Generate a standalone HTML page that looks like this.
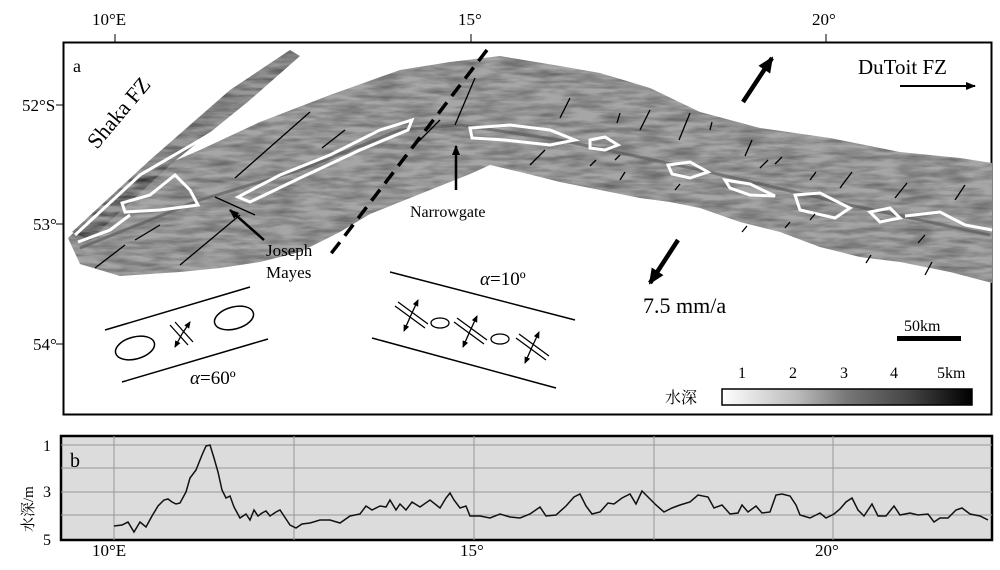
<!DOCTYPE html>
<html><head><meta charset="utf-8"><style>
body{margin:0;background:#fff;width:1000px;height:570px;overflow:hidden}
svg{display:block}
text{font-family:"Liberation Serif","Noto Serif CJK SC",serif;fill:#000}
</style></head><body>
<svg width="1000" height="570" viewBox="0 0 1000 570">
<defs>
<filter id="tex" x="0" y="0" width="100%" height="100%">
<feTurbulence type="fractalNoise" baseFrequency="0.03 0.18" numOctaves="3" seed="4" result="n"/>
<feColorMatrix in="n" type="matrix" values="0 0 0 0 0  0 0 0 0 0  0 0 0 0 0  0 0 0 -1.6 1.1" result="d"/>
<feComposite in="d" in2="SourceGraphic" operator="in"/>
</filter>
<linearGradient id="cb" x1="0" x2="1">
<stop offset="0" stop-color="#fff"/><stop offset="0.3" stop-color="#bbb"/><stop offset="0.5" stop-color="#777"/><stop offset="0.75" stop-color="#444"/><stop offset="1" stop-color="#000"/>
</linearGradient>
<marker id="ah" markerUnits="userSpaceOnUse" markerWidth="10" markerHeight="8" refX="9" refY="4" orient="auto"><path d="M0,0L10,4L0,8z" fill="#000"/></marker>
<marker id="ab" markerUnits="userSpaceOnUse" markerWidth="16" markerHeight="14" refX="14" refY="7" orient="auto"><path d="M0,0L16,7L0,14z" fill="#000"/></marker>
<marker id="as" markerUnits="userSpaceOnUse" markerWidth="7" markerHeight="6" refX="6" refY="3" orient="auto"><path d="M0,0L7,3L0,6z" fill="#000"/></marker>
</defs>
<rect x="63.5" y="42.5" width="928" height="372" fill="#fff" stroke="#000" stroke-width="2"/>
<line x1="115" y1="34" x2="115" y2="42" stroke="#000"/><line x1="471" y1="34" x2="471" y2="42" stroke="#000"/><line x1="826" y1="34" x2="826" y2="42" stroke="#000"/>
<text x="92" y="25" font-size="17">10°E</text><text x="458" y="25" font-size="17">15°</text><text x="812" y="25" font-size="17">20°</text>
<text x="22" y="111" font-size="17">52°S</text><text x="33" y="230" font-size="17">53°</text><text x="33" y="350" font-size="17">54°</text>
<line x1="56" y1="105" x2="63" y2="105" stroke="#000"/><line x1="56" y1="224" x2="63" y2="224" stroke="#000"/><line x1="56" y1="344" x2="63" y2="344" stroke="#000"/>
<text x="73" y="72" font-size="18">a</text>
<g>
<path d="M68,238 L130,180 L200,150 L260,122 L330,95 L400,70 L450,62 L500,56 L560,66 L600,73 L650,88 L700,112 L760,128 L830,138 L900,152 L960,158 L992,163 L992,283 L950,272 L900,262 L860,257 L820,247 L780,232 L740,222 L700,208 L670,202 L640,198 L600,190 L560,182 L520,172 L490,165 L470,174 L430,190 L400,202 L370,214 L340,232 L300,252 L260,262 L220,268 L180,272 L120,276 L80,264 Z" fill="#a6a6a6"/>
<path d="M72,232 L150,160 L230,90 L290,50 L300,56 L250,100 L170,165 L90,240 Z" fill="#999"/>
<path d="M68,238 L130,180 L200,150 L260,122 L330,95 L400,70 L450,62 L500,56 L560,66 L600,73 L650,88 L700,112 L760,128 L830,138 L900,152 L960,158 L992,163 L992,283 L950,272 L900,262 L860,257 L820,247 L780,232 L740,222 L700,208 L670,202 L640,198 L600,190 L560,182 L520,172 L490,165 L470,174 L430,190 L400,202 L370,214 L340,232 L300,252 L260,262 L220,268 L180,272 L120,276 L80,264 Z" fill="#000" filter="url(#tex)" opacity="0.4"/>
<path d="M72,232 L150,160 L230,90 L290,50 L300,56 L250,100 L170,165 L90,240 Z" fill="#000" filter="url(#tex)" opacity="0.45"/>
<path d="M80,248 L200,200 L300,170 L400,130 L460,125 L560,140 L700,170 L850,205 L990,235" fill="none" stroke="#555" stroke-width="3" opacity="0.6"/>
</g>
<g fill="none" stroke="#fff" stroke-width="3">
<path d="M75,235 L140,175 L200,140 L250,110"/>
<path d="M122,203 L150,195 L175,175 L190,190 L198,205 L160,210 L125,212 Z"/>
<path d="M78,242 L110,230 L130,215"/>
<path d="M238,197 L280,175 L330,155 L380,130 L412,120 L408,130 L360,150 L300,178 L250,202 Z"/>
<path d="M470,128 L510,125 L550,130 L575,140 L550,145 L505,140 L472,138 Z"/>
<path d="M590,140 L605,137 L618,145 L605,150 L590,148 Z"/>
<path d="M668,165 L690,162 L708,172 L690,178 L672,174 Z"/>
<path d="M725,180 L750,184 L775,196 L750,195 L730,188 Z"/>
<path d="M795,195 L820,193 L850,208 L835,218 L800,210 Z"/>
<path d="M870,212 L890,208 L900,218 L880,222 Z"/>
<path d="M905,216 L940,212 L965,225 L992,230"/>
</g>
<g stroke="#000" stroke-width="1.3">
<line x1="235" y1="178" x2="310" y2="112"/><line x1="322" y1="148" x2="345" y2="130"/><line x1="180" y1="265" x2="240" y2="215"/>
<line x1="95" y1="268" x2="125" y2="245"/><line x1="135" y1="240" x2="160" y2="225"/><line x1="215" y1="197" x2="255" y2="215"/>
<line x1="415" y1="145" x2="440" y2="120"/><line x1="455" y1="125" x2="475" y2="78"/><line x1="530" y1="165" x2="545" y2="150"/>
<line x1="560" y1="118" x2="570" y2="98"/><line x1="617" y1="123" x2="620" y2="113"/><line x1="640" y1="130" x2="650" y2="110"/><line x1="679" y1="140" x2="690" y2="113"/><line x1="710" y1="130" x2="712" y2="122"/>
<line x1="745" y1="156" x2="752" y2="140"/><line x1="760" y1="168" x2="768" y2="160"/><line x1="775" y1="164" x2="782" y2="157"/>
<line x1="810" y1="180" x2="816" y2="172"/><line x1="840" y1="188" x2="852" y2="172"/><line x1="895" y1="198" x2="907" y2="183"/><line x1="955" y1="200" x2="965" y2="185"/>
<line x1="590" y1="166" x2="596" y2="160"/><line x1="615" y1="160" x2="620" y2="155"/><line x1="620" y1="180" x2="625" y2="172"/><line x1="675" y1="190" x2="680" y2="184"/>
<line x1="742" y1="232" x2="747" y2="226"/><line x1="785" y1="228" x2="790" y2="222"/><line x1="810" y1="220" x2="815" y2="214"/>
<line x1="866" y1="263" x2="871" y2="255"/><line x1="925" y1="275" x2="932" y2="262"/><line x1="918" y1="243" x2="925" y2="235"/>
</g>
<line x1="487" y1="50" x2="330" y2="255" stroke="#000" stroke-width="3.5" stroke-dasharray="14,8"/>
<text x="0" y="0" font-size="22" transform="translate(97,150) rotate(-50)">Shaka FZ</text>
<text x="858" y="74" font-size="21">DuToit FZ</text>
<line x1="900" y1="86" x2="975" y2="86" stroke="#000" stroke-width="2" marker-end="url(#ah)"/>
<text x="410" y="217" font-size="16">Narrowgate</text>
<line x1="456" y1="190" x2="456" y2="146" stroke="#000" stroke-width="2.5" marker-end="url(#ah)"/>
<text x="266" y="256" font-size="17">Joseph</text><text x="266" y="278" font-size="17">Mayes</text>
<line x1="264" y1="240" x2="230" y2="210" stroke="#000" stroke-width="2.5" marker-end="url(#ah)"/>
<line x1="743" y1="102" x2="772" y2="58" stroke="#000" stroke-width="4.5" marker-end="url(#ab)"/>
<line x1="678" y1="240" x2="650" y2="283" stroke="#000" stroke-width="4.5" marker-end="url(#ab)"/>
<text x="643" y="313" font-size="22">7.5 mm/a</text>
<line x1="105" y1="330" x2="250" y2="287" stroke="#000" stroke-width="1.5"/>
<line x1="122" y1="382" x2="268" y2="339" stroke="#000" stroke-width="1.5"/>
<ellipse cx="135" cy="348" rx="20" ry="11" transform="rotate(-15 135 348)" fill="none" stroke="#000" stroke-width="1.5"/>
<ellipse cx="234" cy="318" rx="20" ry="11" transform="rotate(-15 234 318)" fill="none" stroke="#000" stroke-width="1.5"/>
<g stroke="#000" stroke-width="1.3"><line x1="170" y1="325" x2="188" y2="345"/><line x1="175" y1="322" x2="193" y2="342"/><line x1="182" y1="334" x2="190" y2="322" marker-end="url(#as)"/><line x1="182" y1="334" x2="175" y2="347" marker-end="url(#as)"/></g>
<text x="190" y="384" font-size="19"><tspan font-style="italic">α</tspan>=60º</text>
<line x1="390" y1="272" x2="575" y2="320" stroke="#000" stroke-width="1.5"/>
<line x1="372" y1="338" x2="556" y2="388" stroke="#000" stroke-width="1.5"/>
<text x="480" y="285" font-size="19"><tspan font-style="italic">α</tspan>=10º</text>
<g stroke="#000" stroke-width="1.3" fill="none">
<line x1="395" y1="306" x2="425" y2="328"/><line x1="398" y1="302" x2="428" y2="324"/>
<line x1="454" y1="322" x2="484" y2="344"/><line x1="457" y1="318" x2="487" y2="340"/>
<line x1="516" y1="338" x2="546" y2="360"/><line x1="519" y1="334" x2="549" y2="356"/>
<ellipse cx="440" cy="323" rx="9" ry="5"/><ellipse cx="500" cy="339" rx="9" ry="5"/>
<line x1="411" y1="315" x2="418" y2="300" marker-end="url(#as)"/><line x1="411" y1="315" x2="404" y2="331" marker-end="url(#as)"/>
<line x1="470" y1="331" x2="477" y2="316" marker-end="url(#as)"/><line x1="470" y1="331" x2="463" y2="347" marker-end="url(#as)"/>
<line x1="532" y1="347" x2="539" y2="332" marker-end="url(#as)"/><line x1="532" y1="347" x2="525" y2="363" marker-end="url(#as)"/>
</g>
<text x="904" y="331" font-size="16">50km</text>
<rect x="897" y="336" width="64" height="5" fill="#000"/>
<rect x="722" y="389" width="250" height="16" fill="url(#cb)" stroke="#000" stroke-width="1.5"/>
<text x="665" y="403" font-size="16">水深</text>
<g font-size="16"><text x="738" y="378">1</text><text x="789" y="378">2</text><text x="840" y="378">3</text><text x="890" y="378">4</text><text x="937" y="378">5km</text></g>
<rect x="61" y="436" width="931" height="104" fill="#dcdcdc" stroke="#000" stroke-width="2.5"/>
<g stroke="#999" stroke-width="1"><line x1="61" y1="445" x2="992" y2="445"/><line x1="61" y1="468" x2="992" y2="468"/><line x1="61" y1="492" x2="992" y2="492"/><line x1="61" y1="515" x2="992" y2="515"/>
<line x1="114" y1="436" x2="114" y2="540"/><line x1="294" y1="436" x2="294" y2="540"/><line x1="474" y1="436" x2="474" y2="540"/><line x1="654" y1="436" x2="654" y2="540"/><line x1="833" y1="436" x2="833" y2="540"/></g>
<text x="70" y="467" font-size="20">b</text>
<text x="43" y="451" font-size="16">1</text><text x="43" y="497" font-size="16">3</text><text x="43" y="545" font-size="16">5</text>
<text x="0" y="0" font-size="15" transform="translate(33,532) rotate(-90)">水深/m</text>
<polyline fill="none" stroke="#111" stroke-width="1.5" points="114,526 122,525 128,522 134,532 140,522 146,527 152,516 158,506 164,500 168,499 172,502 176,504 180,503 186,492 190,478 196,470 202,455 206,446 210,445 214,458 218,472 222,490 226,498 230,496 234,507 240,518 246,514 250,520 254,510 258,516 262,513 266,511 270,516 276,512 280,510 284,516 290,525 296,528 302,524 310,523 320,520 330,520 340,523 350,516 360,514 366,506 372,510 380,506 386,507 390,500 396,510 400,504 406,510 412,502 420,507 430,500 440,508 446,498 450,493 454,500 460,508 466,506 470,516 480,516 490,518 500,514 510,517 520,518 530,514 540,507 546,516 556,515 566,506 574,497 580,494 586,506 592,514 600,512 608,503 614,504 622,498 630,494 636,504 642,491 648,497 656,505 664,512 672,508 680,505 690,502 698,495 708,497 714,508 722,505 730,514 738,513 742,505 748,512 756,506 762,513 770,512 776,495 782,494 790,496 796,505 800,515 810,518 820,513 826,518 834,514 840,509 846,502 852,498 858,510 864,516 872,504 878,516 886,516 894,506 900,515 910,513 918,515 928,514 934,522 940,518 948,518 956,510 962,508 970,514 980,516 988,520"/>
<g font-size="17"><text x="92" y="556">10°E</text><text x="460" y="556">15°</text><text x="815" y="556">20°</text></g>
</svg>
</body></html>
